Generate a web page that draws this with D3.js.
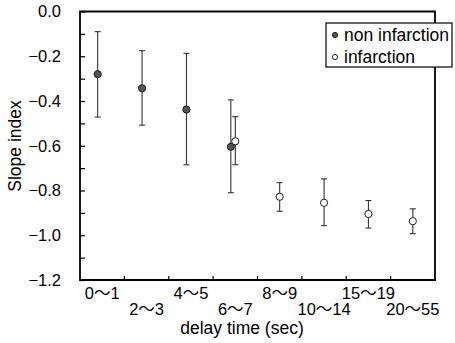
<!DOCTYPE html>
<html>
<head>
<meta charset="utf-8">
<script src="https://cdn.jsdelivr.net/npm/d3@7"></script>
<style>
  body { margin: 0; background: #fff; }
  svg text { font-family: "Liberation Sans", Arial, "Noto Sans CJK JP", sans-serif; }
</style>
</head>
<body>
<svg id="chart" width="455" height="343"></svg>
<script>
// delay time groups
var categories = ['0～1', '2～3', '4～5', '6～7', '8～9', '10～14', '15～19', '20～55'];

// non infarction: mean, upper, lower
var nonCats = ['0～1', '2～3', '4～5', '6～7'];
var nonMean = [-0.28, -0.343, -0.438, -0.605];
var nonHigh = [-0.09, -0.175, -0.187, -0.395];
var nonLow  = [-0.472, -0.508, -0.685, -0.81];

// infarction: mean, upper, lower
var infCats = ['6～7', '8～9', '10～14', '15～19', '20～55'];
var infMean = [-0.58, -0.828, -0.855, -0.905, -0.937];
var infHigh = [-0.47, -0.765, -0.748, -0.845, -0.882];
var infLow  = [-0.685, -0.893, -0.957, -0.968, -0.993];

var yTicks = [0, -0.2, -0.4, -0.6, -0.8, -1.0, -1.2];
var yMinor = d3.range(0, 13).map(function (i) { return -i / 10; });

var svg = d3.select('#chart');
var mLeft = 80, mRight = 435, mTop = 11.5, mBottom = 280;

var x = d3.scaleBand().domain(categories).range([mLeft, mRight]).padding(0);
var y = d3.scaleLinear().domain([-1.2, 0]).range([mBottom, mTop]);

// y ticks inward
var yAxis = d3.axisLeft(y).tickValues(yMinor).tickSize(-5).tickFormat('');
svg.append('g').attr('transform', 'translate(' + mLeft + ',0)').call(yAxis)
  .call(function (g) { g.select('.domain').remove(); })
  .selectAll('line').attr('stroke', '#000').attr('stroke-width', 1.2);

svg.append('g').selectAll('text').data(yTicks).join('text')
  .attr('x', 61).attr('y', function (d) { return y(d); })
  .attr('dy', '0.36em').attr('text-anchor', 'end')
  .attr('font-size', 16.5).attr('fill', '#000')
  .text(function (d) { return d3.format('.1f')(d).replace('-', '−'); });

// x ticks at band boundaries, inward
var bounds = categories.slice(1).map(function (c) { return x(c); });
svg.append('g').selectAll('line').data(bounds).join('line')
  .attr('x1', function (d) { return d; }).attr('x2', function (d) { return d; })
  .attr('y1', mBottom).attr('y2', mBottom - 4)
  .attr('stroke', '#000').attr('stroke-width', 1.2);

svg.append('g').selectAll('text').data(categories).join('text')
  .attr('x', function (d) { return x(d) + x.bandwidth() / 2; })
  .attr('y', function (d, i) { return i % 2 === 0 ? 299 : 315; })
  .attr('text-anchor', 'middle').attr('font-size', 16.5).attr('fill', '#000')
  .text(function (d) { return d; });

// frame
svg.append('path')
  .attr('d', 'M' + mLeft + ',' + mTop + 'H' + mRight + 'V' + mBottom + 'H' + mLeft + 'Z')
  .attr('fill', 'none').attr('stroke', '#000').attr('stroke-width', 1.8);

// axis titles
svg.append('text').attr('x', 242).attr('y', 333.5).attr('text-anchor', 'middle')
  .attr('font-size', 17.5).attr('fill', '#000').text('delay time (sec)');
svg.append('text').attr('transform', 'translate(21,146) rotate(-90)')
  .attr('text-anchor', 'middle').attr('font-size', 17.5).attr('fill', '#000').text('Slope index');

// series
var series = [
  { cats: nonCats, mean: nonMean, high: nonHigh, low: nonLow, shift: -4.5, fill: '#555' },
  { cats: infCats, mean: infMean, high: infHigh, low: infLow, shift: 0, fill: '#fff' }
];

series.forEach(function (s) {
  var rows = s.cats.map(function (c, i) {
    return { cx: x(c) + x.bandwidth() / 2 + s.shift, m: s.mean[i], h: s.high[i], l: s.low[i] };
  });
  var g = svg.append('g');
  g.selectAll('line.bar').data(rows).join('line').attr('class', 'bar')
    .attr('x1', function (d) { return d.cx; }).attr('x2', function (d) { return d.cx; })
    .attr('y1', function (d) { return y(d.h); }).attr('y2', function (d) { return y(d.l); })
    .attr('stroke', '#333').attr('stroke-width', 1.1);
  ['h', 'l'].forEach(function (k) {
    g.selectAll('line.cap' + k).data(rows).join('line').attr('class', 'cap' + k)
      .attr('x1', function (d) { return d.cx - 3; }).attr('x2', function (d) { return d.cx + 3; })
      .attr('y1', function (d) { return y(d[k]); }).attr('y2', function (d) { return y(d[k]); })
      .attr('stroke', '#333').attr('stroke-width', 1.1);
  });
  g.selectAll('circle').data(rows).join('circle')
    .attr('cx', function (d) { return d.cx; }).attr('cy', function (d) { return y(d.m); })
    .attr('r', 3.6).attr('fill', s.fill).attr('stroke', '#222').attr('stroke-width', 1);
});

// legend
var lg = svg.append('g');
lg.append('rect').attr('x', 326).attr('y', 23).attr('width', 126).attr('height', 44)
  .attr('fill', '#fff').attr('stroke', '#000').attr('stroke-width', 1.2);
var legendItems = [{ label: 'non infarction', fill: '#555' }, { label: 'infarction', fill: '#fff' }];
legendItems.forEach(function (d, i) {
  lg.append('circle').attr('cx', 335).attr('cy', 35 + i * 22).attr('r', 2.6)
    .attr('fill', d.fill).attr('stroke', '#222').attr('stroke-width', 1);
  lg.append('text').attr('x', 344).attr('y', 35 + i * 22).attr('dy', '0.36em')
    .attr('font-size', 17.5).attr('fill', '#000').text(d.label);
});
</script>
</body>
</html>
